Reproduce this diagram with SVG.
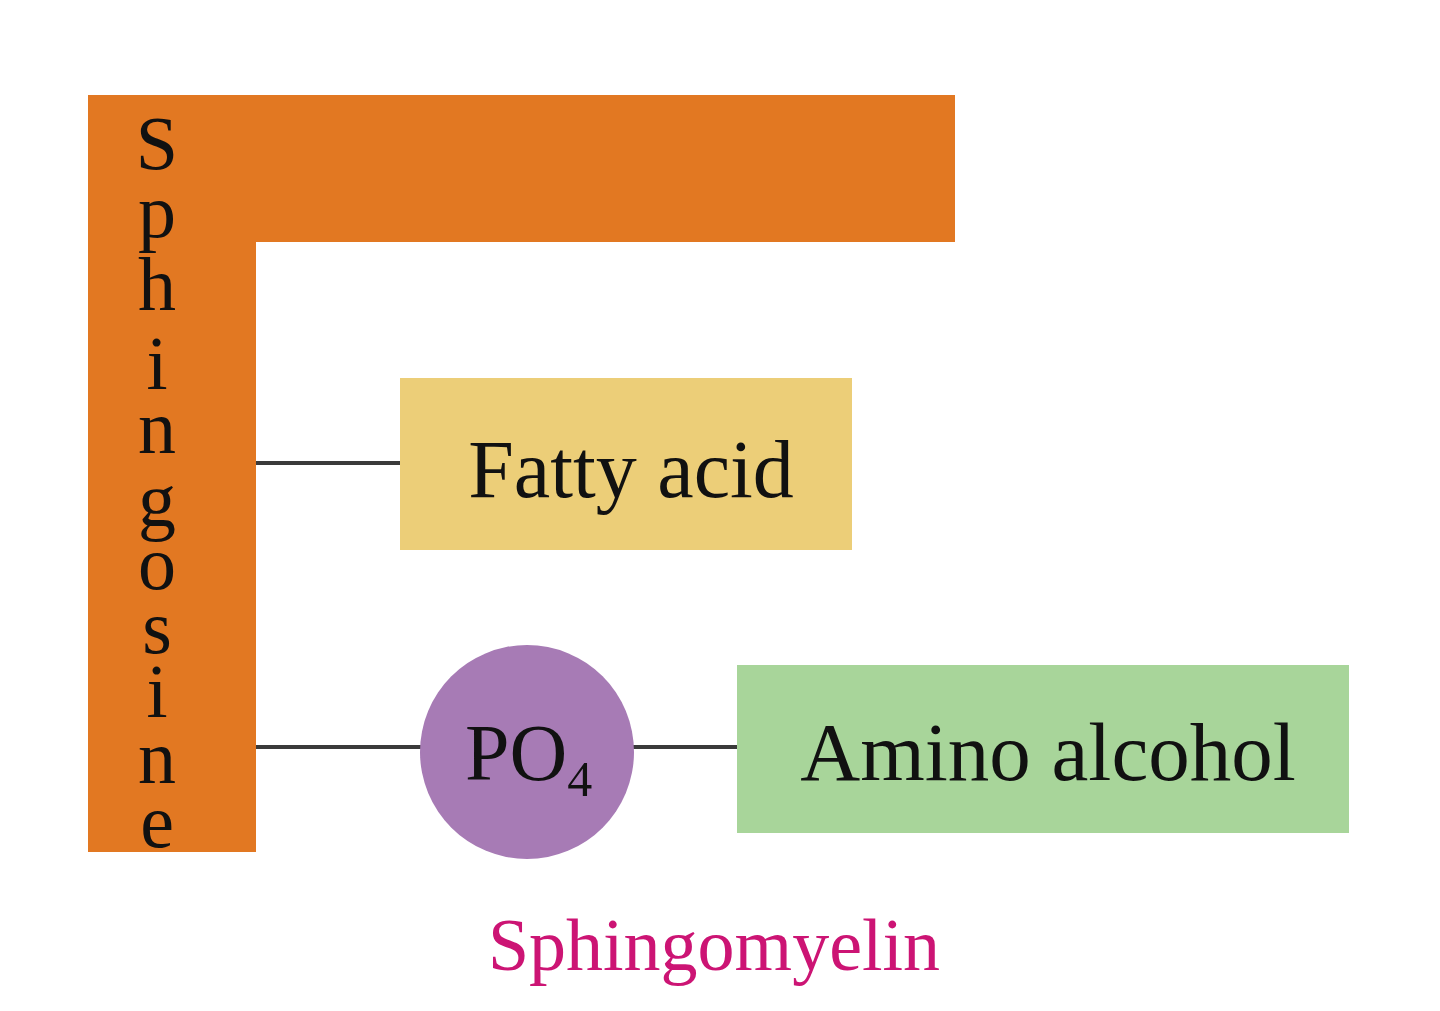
<svg xmlns="http://www.w3.org/2000/svg" width="1440" height="1011" viewBox="0 0 1440 1011">
<style>
.t{font-family:"Liberation Serif","Times New Roman",serif;fill:#111;}
.v{font-family:"Liberation Serif","Times New Roman",serif;fill:#111;font-size:76px;text-anchor:middle;}
.ln{stroke:#3a3a3a;stroke-width:4;fill:none;}
</style>
<rect width="1440" height="1011" fill="#fff"/>
<g id="sphingosine">
<path d="M88 95 H955 V242 H256 V852 H88 Z" fill="#E27822"/>
<text class="v" x="157" y="169">S</text>
<text class="v" x="157" y="237">p</text>
<text class="v" x="157" y="310">h</text>
<text class="v" x="157" y="389">i</text>
<text class="v" x="157" y="453">n</text>
<text class="v" x="157" y="526">g</text>
<text class="v" x="157" y="589">o</text>
<text class="v" x="157" y="653">s</text>
<text class="v" x="157" y="717">i</text>
<text class="v" x="157" y="783">n</text>
<text class="v" x="157" y="847">e</text>
</g>
<g id="connectors">
<line class="ln" x1="256" y1="463" x2="400" y2="463"/>
<line class="ln" x1="256" y1="747" x2="421" y2="747"/>
<line class="ln" x1="633" y1="747" x2="737" y2="747"/>
</g>
<g id="fatty-acid">
<rect x="400" y="378" width="452" height="172" fill="#ECCE78"/>
<text class="t" x="631" y="497" font-size="82" text-anchor="middle">Fatty acid</text>
</g>
<g id="po4">
<circle cx="527" cy="752" r="107" fill="#A77BB5"/>
<text class="t" x="465" y="780" font-size="80">PO<tspan font-size="50" dy="16">4</tspan></text>
</g>
<g id="amino-alcohol">
<rect x="737" y="665" width="612" height="168" fill="#A8D59A"/>
<text class="t" x="1048" y="780" font-size="83" text-anchor="middle">Amino alcohol</text>
</g>
<text class="t" x="714" y="970" font-size="74" text-anchor="middle" style="fill:#CC1474">Sphingomyelin</text>
</svg>
